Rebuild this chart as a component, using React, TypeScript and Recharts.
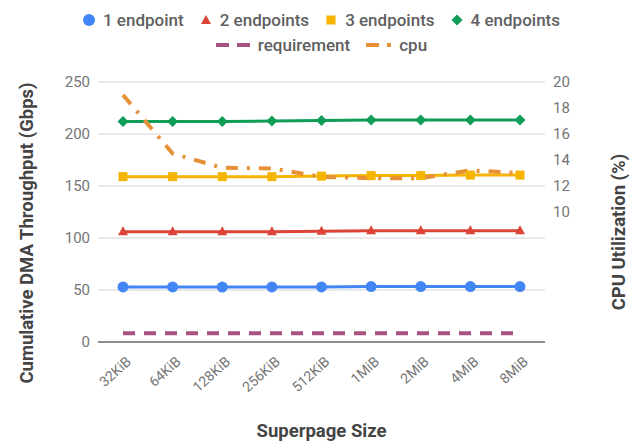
import React from 'react';
import { ComposedChart, Line, XAxis, YAxis, CartesianGrid } from 'recharts';

const sizes = ['32KiB', '64KiB', '128KiB', '256KiB', '512KiB', '1MiB', '2MiB', '4MiB', '8MiB'];
const oneEndpoint = [53, 53, 52.8, 53, 53, 53.3, 53.3, 53.3, 53.3];
const twoEndpoints = [106, 106, 106, 106, 106.5, 107, 107, 107, 107];
const threeEndpoints = [159, 159, 159, 159, 159.5, 160, 160, 160.5, 160.5];
const fourEndpoints = [212, 212, 212, 212.5, 213, 213.5, 213.5, 213.5, 213.5];
const requirement = [8.5, 8.5, 8.5, 8.5, 8.5, 8.5, 8.5, 8.5, 8.5];
const cpu = [19.0, 14.5, 13.4, 13.35, 12.7, 12.6, 12.6, 13.2, 13.0];

const leftTicks = [0, 50, 100, 150, 200, 250];
const rightTicks = [10, 12, 14, 16, 18, 20];

const data = sizes.map((size, i) => ({
  size,
  ep1: oneEndpoint[i],
  ep2: twoEndpoints[i],
  ep3: threeEndpoints[i],
  ep4: fourEndpoints[i],
  req: requirement[i],
  cpu: cpu[i],
}));

const COLORS = {
  ep1: '#4285f4',
  ep2: '#db4437',
  ep3: '#f4b400',
  ep4: '#0f9d58',
  req: '#a8507f',
  cpu: '#e69138',
};

const FONT = 'Roboto, "Noto Sans", sans-serif';

const circleDot = (p: any) => <circle key={p.index} cx={p.cx} cy={p.cy} r={5.5} fill={COLORS.ep1} />;
const triangleDot = (p: any) => (
  <polygon key={p.index} points={`${p.cx},${p.cy - 5.5} ${p.cx + 5},${p.cy + 3.5} ${p.cx - 5},${p.cy + 3.5}`} fill={COLORS.ep2} />
);
const squareDot = (p: any) => <rect key={p.index} x={p.cx - 4.5} y={p.cy - 4.5} width={9} height={9} fill={COLORS.ep3} />;
const diamondDot = (p: any) => (
  <polygon key={p.index} points={`${p.cx},${p.cy - 5.5} ${p.cx + 5.5},${p.cy} ${p.cx},${p.cy + 5.5} ${p.cx - 5.5},${p.cy}`} fill={COLORS.ep4} />
);

const XTick = (props: any) => {
  const { x, y, payload } = props;
  const ax = x + 9;
  const ay = y + 13;
  return (
    <text x={ax} y={ay} transform={`rotate(-42, ${ax}, ${ay})`} textAnchor="end" fontSize={14} fill="#757575" fontFamily={FONT}>
      {payload.value}
    </text>
  );
};

const AxisTitle = (props: any) => {
  const { viewBox, text, side } = props;
  if (!viewBox) return null;
  const common = { fontSize: 18.5, fontWeight: 700, fill: '#444', fontFamily: FONT, textAnchor: 'middle' as const };
  if (side === 'x') {
    return <text x={viewBox.x + viewBox.width / 2} y={viewBox.y + 95} {...common}>{text}</text>;
  }
  const cx = side === 'left' ? viewBox.x + 27 : viewBox.x + 74;
  const cy = viewBox.y + viewBox.height / 2 + (side === 'left' ? 21 : 20);
  return (
    <text x={cx} y={cy} transform={`rotate(-90, ${cx}, ${cy})`} dominantBaseline="central" {...common}>
      {text}
    </text>
  );
};

const legendText: React.CSSProperties = { fontSize: 17, fontWeight: 500, color: '#5f5f5f', fontFamily: FONT, marginLeft: 8, marginRight: 16 };

const LegendIcon = ({ kind }: { kind: string }) => {
  if (kind === 'req') {
    return (
      <svg width={34} height={10}>
        <line x1={0} y1={5} x2={34} y2={5} stroke={COLORS.req} strokeWidth={4} strokeDasharray="13 8" />
      </svg>
    );
  }
  if (kind === 'cpu') {
    return (
      <svg width={25} height={10}>
        <line x1={0} y1={5} x2={25} y2={5} stroke={COLORS.cpu} strokeWidth={4} strokeDasharray="13 8 4 8" />
      </svg>
    );
  }
  return (
    <svg width={12} height={12}>
      {kind === 'ep1' && <circle cx={6} cy={6} r={6} fill={COLORS.ep1} />}
      {kind === 'ep2' && <polygon points="6,1 11,10 1,10" fill={COLORS.ep2} />}
      {kind === 'ep3' && <rect x={1.5} y={1.5} width={9} height={9} fill={COLORS.ep3} />}
      {kind === 'ep4' && <polygon points="6,0.5 11.5,6 6,11.5 0.5,6" fill={COLORS.ep4} />}
    </svg>
  );
};

const legendRows = [
  [
    { kind: 'ep1', label: '1 endpoint' },
    { kind: 'ep2', label: '2 endpoints' },
    { kind: 'ep3', label: '3 endpoints' },
    { kind: 'ep4', label: '4 endpoints' },
  ],
  [
    { kind: 'req', label: 'requirement' },
    { kind: 'cpu', label: 'cpu' },
  ],
];

export default function App() {
  return (
    <div style={{ position: 'absolute', left: 0, top: 0, width: 635, height: 442, background: '#fff' }}>
      <div style={{ position: 'absolute', left: 0, top: 7, width: 659 }}>
        {legendRows.map((row, r) => (
          <div key={r} style={{ display: 'flex', justifyContent: 'center', alignItems: 'center', height: 25 }}>
            {row.map((item) => (
              <div key={item.kind} style={{ display: 'flex', alignItems: 'center' }}>
                <LegendIcon kind={item.kind} />
                <span style={legendText}>{item.label}</span>
              </div>
            ))}
          </div>
        ))}
      </div>
      <ComposedChart width={635} height={442} data={data} margin={{ top: 82, right: 0, bottom: 0, left: 0 }}>
        <CartesianGrid yAxisId="left" vertical={false} stroke="#d3d3d3" />
        <XAxis
          dataKey="size"
          height={100}
          padding={{ left: 25, right: 25 }}
          tickLine={false}
          axisLine={{ stroke: '#333' }}
          tick={<XTick />}
          interval={0}
          label={<AxisTitle side="x" text="Superpage Size" />}
        />
        <YAxis
          yAxisId="left"
          width={98}
          domain={[0, 250]}
          ticks={leftTicks}
          tickLine={false}
          axisLine={false}
          tick={{ fontSize: 15, fill: '#757575', fontFamily: FONT }}
          label={<AxisTitle side="left" text="Cumulative DMA Throughput (Gbps)" />}
        />
        <YAxis
          yAxisId="right"
          orientation="right"
          width={90}
          domain={[0, 20]}
          ticks={rightTicks}
          tickLine={false}
          axisLine={false}
          tick={{ fontSize: 15, fill: '#757575', fontFamily: FONT, textAnchor: 'start' }}
          label={<AxisTitle side="right" text="CPU Utilization (%)" />}
        />
        <Line yAxisId="left" dataKey="req" stroke={COLORS.req} strokeWidth={4} strokeDasharray="12 9" dot={false} isAnimationActive={false} />
        <Line yAxisId="left" dataKey="ep1" stroke={COLORS.ep1} strokeWidth={3} dot={circleDot} activeDot={false} isAnimationActive={false} />
        <Line yAxisId="left" dataKey="ep2" stroke={COLORS.ep2} strokeWidth={3} dot={triangleDot} activeDot={false} isAnimationActive={false} />
        <Line yAxisId="left" dataKey="ep3" stroke={COLORS.ep3} strokeWidth={3} dot={squareDot} activeDot={false} isAnimationActive={false} />
        <Line yAxisId="left" dataKey="ep4" stroke={COLORS.ep4} strokeWidth={3} dot={diamondDot} activeDot={false} isAnimationActive={false} />
        <Line yAxisId="right" dataKey="cpu" stroke={COLORS.cpu} strokeWidth={4} strokeDasharray="12 9 3 9" dot={false} isAnimationActive={false} />
      </ComposedChart>
    </div>
  );
}
